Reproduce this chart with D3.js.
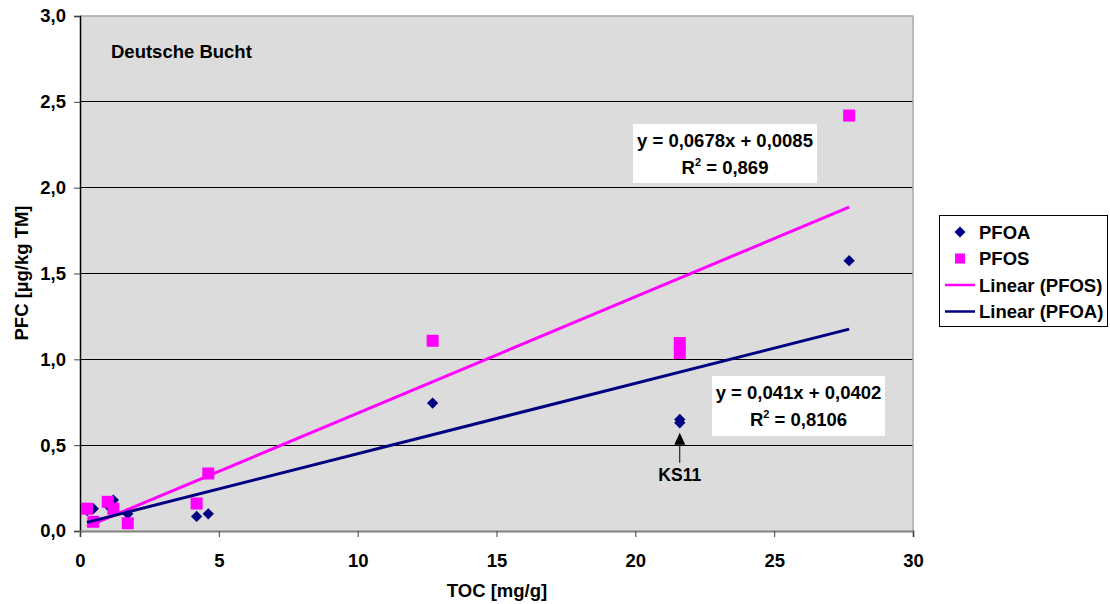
<!DOCTYPE html>
<html><head><meta charset="utf-8">
<script src="https://cdn.jsdelivr.net/npm/d3@7"></script>
<style>body{margin:0;background:#fff}svg{display:block}text{font-family:"Liberation Sans",Arial,sans-serif;font-weight:bold}</style>
</head><body><svg id="c" width="1110" height="604"></svg>
<script>
// Data
const toc  = [0.25, 0.48, 1.0, 1.2, 1.72, 4.2, 4.62, 12.7, 21.6, 21.6, 27.7];
const pfoa = [0.12, 0.13, 0.15, 0.18, 0.10, 0.085, 0.10, 0.745, 0.63, 0.65, 1.575];
const pfos = [0.13, 0.054, 0.17, 0.13, 0.045, 0.16, 0.335, 1.108, 1.037, 1.095, 2.42];
const trendPFOS = {slope: 0.0678, intercept: 0.0085, eq: "y = 0,0678x + 0,0085", r2: "0,869"};
const trendPFOA = {slope: 0.041, intercept: 0.0402, eq: "y = 0,041x + 0,0402", r2: "0,8106"};
const xTicks = [0, 5, 10, 15, 20, 25, 30];
const yTicks = [0, 0.5, 1.0, 1.5, 2.0, 2.5, 3.0];
const legendItems = ["PFOA", "PFOS", "Linear (PFOS)", "Linear (PFOA)"];
const annotation = {label: "KS11", x: 21.6, y: 0.63};
const title = "Deutsche Bucht";

const C_PFOA = "#000080", C_PFOS = "#FF00FF";
const FS = 18.5;
const svg = d3.select("#c");
const L = 80, R = 913, T = 16, B = 531;
const x = d3.scaleLinear().domain([0, 30]).range([L, R]);
const y = d3.scaleLinear().domain([0, 3]).range([B, T]);
const fmt = v => d3.format(".1f")(v).replace(".", ",");

// plot background
svg.append("rect").attr("x", L).attr("y", T).attr("width", R - L).attr("height", B - T).attr("fill", "#DCDCDC");
// gridlines
svg.append("g").selectAll("line").data(yTicks.filter(d => d > 0 && d < 3)).join("line")
  .attr("x1", L).attr("x2", R).attr("y1", d => y(d)).attr("y2", d => y(d))
  .attr("stroke", "#000").attr("stroke-width", 1).attr("shape-rendering", "crispEdges");
// border top/right
svg.append("path").attr("d", `M${L},${T}H${R}V${B}`).attr("fill", "none").attr("stroke", "#A8A8A8").attr("stroke-width", 1.5);

// axes
const yAxis = svg.append("g").attr("transform", `translate(${L},0)`)
  .call(d3.axisLeft(y).tickValues(yTicks).tickFormat(fmt).tickSize(6).tickPadding(8));
const xAxis = svg.append("g").attr("transform", `translate(0,${B})`)
  .call(d3.axisBottom(x).tickValues(xTicks).tickFormat(d3.format("d")).tickSize(6).tickPadding(17));
[yAxis, xAxis].forEach(g => {
  g.selectAll("text").attr("font-size", FS).attr("fill", "#000").attr("font-family", "Liberation Sans, Arial, sans-serif").attr("font-weight", "bold");
  g.selectAll("line").attr("stroke", "#404040");
});
yAxis.select(".domain").attr("stroke", "#000").attr("stroke-width", 1.5);
xAxis.select(".domain").attr("stroke", "#808080").attr("stroke-width", 2);

// axis titles
svg.append("text").attr("x", 497).attr("y", 597).attr("text-anchor", "middle").attr("font-size", FS).text("TOC [mg/g]");
svg.append("text").attr("transform", "translate(28,273) rotate(-90)").attr("text-anchor", "middle").attr("font-size", FS).text("PFC [µg/kg TM]");

// title in plot
svg.append("text").attr("x", 111).attr("y", 58).attr("font-size", FS).text(title);

const pts = toc.map((t, i) => ({t, a: pfoa[i], s: pfos[i]}));
const xmin = d3.min(toc), xmax = d3.max(toc);

// PFOA diamonds
svg.append("g").selectAll("path").data(pts).join("path")
  .attr("d", d3.symbol(d3.symbolSquare, 64)())
  .attr("transform", d => `translate(${x(d.t)},${y(d.a)}) rotate(45)`)
  .attr("fill", C_PFOA);
// PFOS squares
svg.append("g").selectAll("rect").data(pts).join("rect")
  .attr("x", d => x(d.t) - 6).attr("y", d => y(d.s) - 6).attr("width", 12).attr("height", 12)
  .attr("fill", C_PFOS);

// trend lines
function trend(tr, color) {
  svg.append("line")
    .attr("x1", x(xmin)).attr("y1", y(tr.slope * xmin + tr.intercept))
    .attr("x2", x(xmax)).attr("y2", y(tr.slope * xmax + tr.intercept))
    .attr("stroke", color).attr("stroke-width", 3);
}
trend(trendPFOS, C_PFOS);
trend(trendPFOA, C_PFOA);

// equation boxes
function eqBox(tr, bx, by, bw, bh) {
  const g = svg.append("g");
  g.append("rect").attr("x", bx).attr("y", by).attr("width", bw).attr("height", bh).attr("fill", "#fff");
  const cx = bx + bw / 2;
  g.append("text").attr("x", cx).attr("y", by + 23).attr("text-anchor", "middle").attr("font-size", FS).text(tr.eq);
  const t2 = g.append("text").attr("x", cx).attr("y", by + 50).attr("text-anchor", "middle").attr("font-size", FS);
  t2.append("tspan").text("R");
  t2.append("tspan").attr("dy", -8).attr("font-size", 11).text("2");
  t2.append("tspan").attr("dy", 8).text(" = " + tr.r2);
}
eqBox(trendPFOS, 633, 124, 184, 59);
eqBox(trendPFOA, 712, 376, 173, 60);

// KS11 annotation
const ax = x(annotation.x), ay = y(annotation.y);
svg.append("line").attr("x1", ax).attr("x2", ax).attr("y1", ay + 20).attr("y2", ay + 40).attr("stroke", "#000").attr("stroke-width", 1);
svg.append("path").attr("d", `M${ax},${ay + 10}L${ax - 5.5},${ay + 22}L${ax + 5.5},${ay + 22}Z`).attr("fill", "#000");
svg.append("text").attr("x", ax).attr("y", ay + 58).attr("text-anchor", "middle").attr("font-size", 17.5).text(annotation.label);

// legend
const lg = svg.append("g");
lg.append("rect").attr("x", 939.5).attr("y", 215.5).attr("width", 168).attr("height", 111).attr("fill", "#fff").attr("stroke", "#000");
legendItems.forEach((name, i) => {
  const cy = 232 + i * 26.5;
  if (i === 0) lg.append("path").attr("d", d3.symbol(d3.symbolSquare, 60)()).attr("transform", `translate(960,${cy}) rotate(45)`).attr("fill", C_PFOA);
  if (i === 1) lg.append("rect").attr("x", 955).attr("y", cy - 5).attr("width", 10).attr("height", 10).attr("fill", C_PFOS);
  if (i >= 2) lg.append("line").attr("x1", 945).attr("x2", 975).attr("y1", cy).attr("y2", cy).attr("stroke", i === 2 ? C_PFOS : C_PFOA).attr("stroke-width", 2.5);
  lg.append("text").attr("x", 979).attr("y", cy + 6.5).attr("font-size", FS).text(name);
});
</script></body></html>
